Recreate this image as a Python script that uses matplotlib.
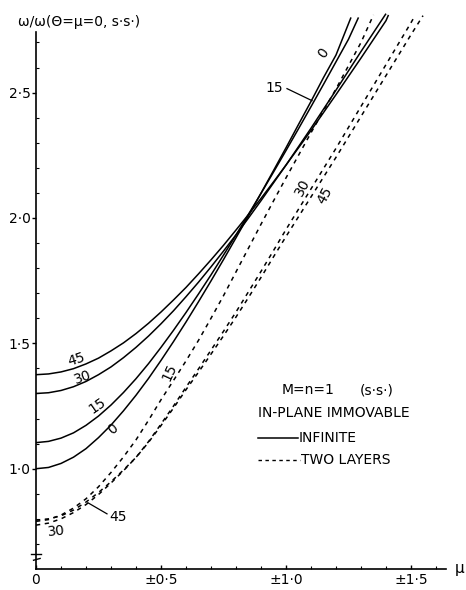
import matplotlib
matplotlib.use('Agg')
import matplotlib.pyplot as plt
from matplotlib.lines import Line2D
import matplotlib.transforms as mtransforms

plt.rcParams['font.family'] = ['DejaVu Sans']

# ---- data ----
mu_fine = [0.0, 0.05, 0.1, 0.15, 0.2, 0.25, 0.3, 0.35, 0.4, 0.45, 0.5, 0.55, 0.6,
           0.65, 0.7, 0.75, 0.8, 0.85, 0.9, 0.95, 1.0]

# Solid curves: INFINITE
mu_inf_0 = mu_fine + [1.05, 1.1, 1.15, 1.2, 1.26]
w_inf_0 = [1.000, 1.005, 1.021, 1.046, 1.080, 1.124, 1.174, 1.231, 1.293, 1.360, 1.432,
           1.507, 1.585, 1.666, 1.749, 1.834, 1.921, 2.009, 2.099, 2.189, 2.280,
           2.373, 2.465, 2.560, 2.650, 2.80]

mu_inf_15 = mu_fine + [1.05, 1.1, 1.15, 1.2, 1.25, 1.29]
w_inf_15 = [1.104, 1.109, 1.122, 1.143, 1.173, 1.210, 1.254, 1.304, 1.359, 1.419, 1.484,
            1.552, 1.623, 1.697, 1.773, 1.852, 1.932, 2.015, 2.098, 2.183, 2.269,
            2.356, 2.444, 2.533, 2.623, 2.713, 2.80]

mu_inf_30 = mu_fine + [1.1, 1.2, 1.3, 1.4]
w_inf_30 = [1.300, 1.303, 1.312, 1.327, 1.348, 1.375, 1.406, 1.443, 1.484, 1.529, 1.578,
            1.630, 1.686, 1.744, 1.805, 1.868, 1.933, 2.000, 2.069, 2.140, 2.211,
            2.358, 2.510, 2.664, 2.815]

mu_inf_45 = mu_fine + [1.1, 1.2, 1.3, 1.4, 1.41]
w_inf_45 = [1.375, 1.378, 1.386, 1.399, 1.418, 1.441, 1.470, 1.502, 1.539, 1.580, 1.625,
            1.673, 1.723, 1.777, 1.833, 1.891, 1.952, 2.014, 2.078, 2.144, 2.211,
            2.349, 2.492, 2.638, 2.787, 2.81]

# Dashed curves: TWO LAYERS
mu_two_15 = mu_fine + [1.1, 1.2, 1.3, 1.35]
w_two_15 = [0.790, 0.797, 0.815, 0.843, 0.880, 0.928, 0.985, 1.047, 1.115, 1.193, 1.275,
            1.352, 1.430, 1.512, 1.600, 1.690, 1.785, 1.880, 1.975, 2.068, 2.160,
            2.340, 2.515, 2.700, 2.81]

mu_two_30 = mu_fine + [1.1, 1.2, 1.3, 1.4, 1.5, 1.516]
w_two_30 = [0.775, 0.783, 0.800, 0.825, 0.857, 0.897, 0.943, 0.992, 1.045, 1.108, 1.178,
            1.250, 1.325, 1.398, 1.473, 1.548, 1.625, 1.706, 1.787, 1.870, 1.954,
            2.116, 2.278, 2.445, 2.612, 2.779, 2.807]

mu_two_45 = mu_fine + [1.1, 1.2, 1.3, 1.4, 1.5, 1.548]
w_two_45 = [0.795, 0.800, 0.812, 0.835, 0.867, 0.905, 0.948, 0.995, 1.045, 1.105, 1.172,
            1.242, 1.315, 1.385, 1.457, 1.530, 1.605, 1.683, 1.763, 1.845, 1.926,
            2.084, 2.242, 2.405, 2.568, 2.731, 2.807]

x_ticks = [0.0, 0.5, 1.0, 1.5]
x_tick_labels = ['0', '\u00b10\u00b75', '\u00b11\u00b70', '\u00b11\u00b75']
y_ticks = [1.0, 1.5, 2.0, 2.5]
y_tick_labels = ['1\u00b70', '1\u00b75', '2\u00b70', '2\u00b75']

# ---- figure ----
W, H = 466, 590
fig = plt.figure(figsize=(W / 100, H / 100), dpi=100)
ax = fig.add_axes([36 / W, 21 / H, 410 / W, (569 - 12.4) / H])
ax.set_xlim(0, 1.64)
ax.set_ylim(0.6, 2.82)

lw = 1.1
solid_kw = dict(color='black', lw=lw, solid_capstyle='butt', solid_joinstyle='round')
dash_kw = dict(color='black', lw=lw, linestyle=(0, (2.8, 3.0)))

ax.plot(mu_inf_0, w_inf_0, **solid_kw)
ax.plot(mu_inf_15, w_inf_15, **solid_kw)
ax.plot(mu_inf_30, w_inf_30, **solid_kw)
ax.plot(mu_inf_45, w_inf_45, **solid_kw)

ax.plot(mu_two_15, w_two_15, **dash_kw)
ax.plot(mu_two_30, w_two_30, **dash_kw)
ax.plot(mu_two_45, w_two_45, **dash_kw)

# spines
for s in ['top', 'right']:
    ax.spines[s].set_visible(False)
ax.spines['left'].set_bounds(0.6, 2.74)
ax.spines['left'].set_linewidth(1.2)
ax.spines['bottom'].set_linewidth(1.2)

# ticks
ax.set_xticks(x_ticks)
ax.set_xticklabels(x_tick_labels, fontsize=10)
ax.set_xticks([i / 10 for i in range(1, 17) if i % 5 != 0], minor=True)
ax.set_yticks(y_ticks)
ax.set_yticklabels(y_tick_labels, fontsize=10)
ax.set_yticks([i / 10 for i in range(7, 28) if i % 5 != 0], minor=True)
ax.tick_params(axis='x', which='major', direction='in', length=3, width=1, pad=3)
ax.tick_params(axis='x', which='minor', direction='in', length=2, width=0.8)
ax.tick_params(axis='y', which='major', direction='out', length=3, width=1, pad=1)
ax.tick_params(axis='y', which='minor', direction='in', length=2, width=0.8)

# axis break mark on y axis
trans = mtransforms.blended_transform_factory(ax.transAxes, ax.transData)
ax.plot([-0.012, 0.012], [0.66, 0.66], color='black', lw=1.0, transform=trans, clip_on=False)
ax.plot([-0.006, 0.010], [0.635, 0.642], color='black', lw=1.0, transform=trans, clip_on=False)

# curve labels (solid)
fs = 10
ax.text(0.16, 1.435, '45', fontsize=fs, rotation=18, ha='center', va='center')
ax.text(0.188, 1.363, '30', fontsize=fs, rotation=20, ha='center', va='center')
ax.text(0.244, 1.251, '15', fontsize=fs, rotation=35, ha='center', va='center')
ax.text(0.308, 1.156, '0', fontsize=fs, rotation=40, ha='center', va='center')
ax.text(1.148, 2.659, '0', fontsize=fs, rotation=55, ha='center', va='center')
ax.text(0.952, 2.52, '15', fontsize=fs, ha='center', va='center')
ax.plot([1.004, 1.104], [2.516, 2.468], color='black', lw=0.9)

# curve labels (dashed)
ax.text(0.536, 1.383, '15', fontsize=fs, rotation=65, ha='center', va='center')
ax.text(1.068, 2.121, '30', fontsize=fs, rotation=62, ha='center', va='center')
ax.text(1.156, 2.089, '45', fontsize=fs, rotation=62, ha='center', va='center')
ax.text(0.08, 0.749, '30', fontsize=fs, rotation=5, ha='center', va='center')
ax.text(0.33, 0.809, '45', fontsize=fs, ha='center', va='center')
ax.plot([0.208, 0.284], [0.864, 0.82], color='black', lw=0.9)

# axis titles
fig.text(18 / W, 1 - 22 / H, '\u03c9/\u03c9(\u0398=\u03bc=0, s\u00b7s\u00b7)', fontsize=10,
         ha='left', va='center')
fig.text(460 / W, 1 - 568 / H, '\u03bc', fontsize=11, ha='center', va='center')

# legend block
def fx(x):
    return x / W

def fy(y):
    return 1 - y / H

fig.text(fx(282), fy(390), 'M=n=1', fontsize=fs, ha='left', va='center')
fig.text(fx(360), fy(390), '(s\u00b7s\u00b7)', fontsize=fs, ha='left', va='center')
fig.text(fx(258), fy(413), 'IN-PLANE IMMOVABLE', fontsize=fs, ha='left', va='center')
fig.add_artist(Line2D([fx(258), fx(298)], [fy(438), fy(438)], color='black', lw=1.1))
fig.text(fx(299), fy(438), 'INFINITE', fontsize=fs, ha='left', va='center')
fig.add_artist(Line2D([fx(258), fx(300)], [fy(460), fy(460)], color='black', lw=1.0,
                      linestyle=(0, (2.5, 2.5))))
fig.text(fx(301), fy(460), 'TWO LAYERS', fontsize=fs, ha='left', va='center')

fig.savefig('out.png', dpi=100)
